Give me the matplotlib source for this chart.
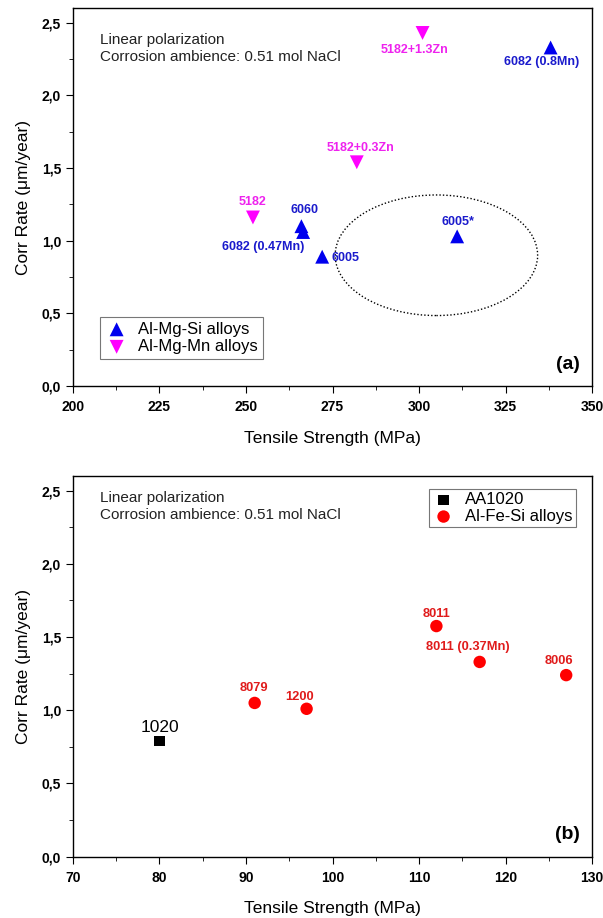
import numpy as np
import matplotlib
matplotlib.use("Agg")
from matplotlib import pyplot as plt
from matplotlib.patches import Ellipse
from matplotlib.ticker import MultipleLocator, FuncFormatter

plt.rcParams['font.family'] = ['Liberation Sans', 'DejaVu Sans']

# 数据 (a): Al-Mg-Si 和 Al-Mg-Mn
mgsi_names = ["6082 (0.8Mn)", "6060", "6082 (0.47Mn)", "6005", "6005*"]
mgsi_ts = [338, 266, 266.5, 272, 311]
mgsi_cr = [2.33, 1.10, 1.06, 0.89, 1.03]

mgmn_names = ["5182+1.3Zn", "5182+0.3Zn", "5182"]
mgmn_ts = [301, 282, 252]
mgmn_cr = [2.43, 1.54, 1.16]

# 数据 (b): AA1020 和 Al-Fe-Si
aa_names = ["1020"]
aa_ts = [80]
aa_cr = [0.79]

fesi_names = ["8079", "1200", "8011", "8011 (0.37Mn)", "8006"]
fesi_ts = [91, 97, 112, 117, 127]
fesi_cr = [1.05, 1.01, 1.575, 1.33, 1.24]

comma = FuncFormatter(lambda v, p: ("%.1f" % v).replace(".", ","))

fig = plt.figure(figsize=(6.03, 9.18), dpi=100)
ax1 = fig.add_axes([0.121, 0.5795, 0.861, 0.4115])
ax2 = fig.add_axes([0.121, 0.0668, 0.861, 0.4147])

def style(ax, xlim, xmaj, xmin, note_y):
    ax.set_xlim(*xlim)
    ax.set_ylim(0, 2.6)
    ax.xaxis.set_major_locator(MultipleLocator(xmaj))
    ax.xaxis.set_minor_locator(MultipleLocator(xmin))
    ax.yaxis.set_major_locator(MultipleLocator(0.5))
    ax.yaxis.set_minor_locator(MultipleLocator(0.25))
    ax.yaxis.set_major_formatter(comma)
    ax.tick_params(which="both", direction="out", top=False, right=False)
    ax.tick_params(which="major", length=5, labelsize=10)
    ax.tick_params(axis="x", which="major", pad=5)
    ax.tick_params(which="minor", length=3)
    for lab in ax.get_xticklabels() + ax.get_yticklabels():
        lab.set_fontweight("bold")
    for s in ax.spines.values():
        s.set_linewidth(1.0)
    ax.set_xlabel("Tensile Strength (MPa)", fontsize=12.5, labelpad=12)
    ax.set_ylabel("Corr Rate (\u03bcm/year)", fontsize=12.5, labelpad=8)
    ax.text(0.052, note_y, "Linear polarization\nCorrosion ambience: 0.51 mol NaCl",
            transform=ax.transAxes, fontsize=11, va="top", linespacing=1.25, color="#222222")

#%% 图 (a)
style(ax1, (200, 350), 25, 12.5, 0.935)
ax1.scatter(mgsi_ts, mgsi_cr, marker="^", s=100, c="#0000ee", edgecolors="none",
            label="Al-Mg-Si alloys", zorder=3)
ax1.scatter(mgmn_ts, mgmn_cr, marker="v", s=100, c="#ff00ff", edgecolors="none",
            label="Al-Mg-Mn alloys", zorder=3)
ax1.add_patch(Ellipse((305, 0.90), 58.5, 0.83, fill=False, ls=(0, (1, 1.5)),
                      lw=1.0, ec="black"))

lab_a = {
    "6082 (0.8Mn)": (335.3, 2.23, "center"),
    "6060": (266.8, 1.212, "center"),
    "6082 (0.47Mn)": (254.9, 0.957, "center"),
    "6005": (274.7, 0.88, "left"),
    "6005*": (311.3, 1.129, "center"),
    "5182+1.3Zn": (298.8, 2.314, "center"),
    "5182+0.3Zn": (283.2, 1.639, "center"),
    "5182": (252.0, 1.267, "center"),
}
for n in mgsi_names:
    x, y, ha = lab_a[n]
    ax1.text(x, y, n, color="#1a1acc", fontsize=9, fontweight="bold", ha=ha, va="center")
for n in mgmn_names:
    x, y, ha = lab_a[n]
    ax1.text(x, y, n, color="#ee22ee", fontsize=9, fontweight="bold", ha=ha, va="center")

leg = ax1.legend(loc="lower left", bbox_to_anchor=(0.052, 0.071), fontsize=12,
                 frameon=True, fancybox=False, edgecolor="#555555",
                 handletextpad=0.6, borderpad=0.3, labelspacing=0.15, handlelength=1.4,
                 borderaxespad=0)
leg.get_frame().set_linewidth(0.8)
ax1.text(0.977, 0.035, "(a)", transform=ax1.transAxes, fontsize=14, fontweight="bold",
         ha="right", va="bottom")

#%% 图 (b)
style(ax2, (70, 130), 10, 5, 0.96)
ax2.scatter(aa_ts, aa_cr, marker="s", s=55, c="black", edgecolors="none",
            label="AA1020", zorder=3)
ax2.scatter(fesi_ts, fesi_cr, marker="o", s=80, c="#ff0000", edgecolors="none",
            label="Al-Fe-Si alloys", zorder=3)

ax2.text(80.06, 0.879, "1020", color="black", fontsize=12.5, ha="center", va="center")
lab_b = {
    "8079": (90.9, 1.152),
    "1200": (96.2, 1.09),
    "8011": (112.0, 1.654),
    "8011 (0.37Mn)": (115.6, 1.432),
    "8006": (126.2, 1.336),
}
for n in fesi_names:
    x, y = lab_b[n]
    ax2.text(x, y, n, color="#e01b1b", fontsize=9.3, fontweight="bold",
             ha="center", va="center")

leg2 = ax2.legend(loc="upper right", bbox_to_anchor=(0.969, 0.966), fontsize=12,
                  frameon=True, fancybox=False, edgecolor="#555555",
                  handletextpad=0.6, borderpad=0.2, labelspacing=0.1, handlelength=1.4,
                  borderaxespad=0)
leg2.get_frame().set_linewidth(0.8)
ax2.text(0.977, 0.035, "(b)", transform=ax2.transAxes, fontsize=14, fontweight="bold",
         ha="right", va="bottom")

fig.savefig("out.png", dpi=100)
